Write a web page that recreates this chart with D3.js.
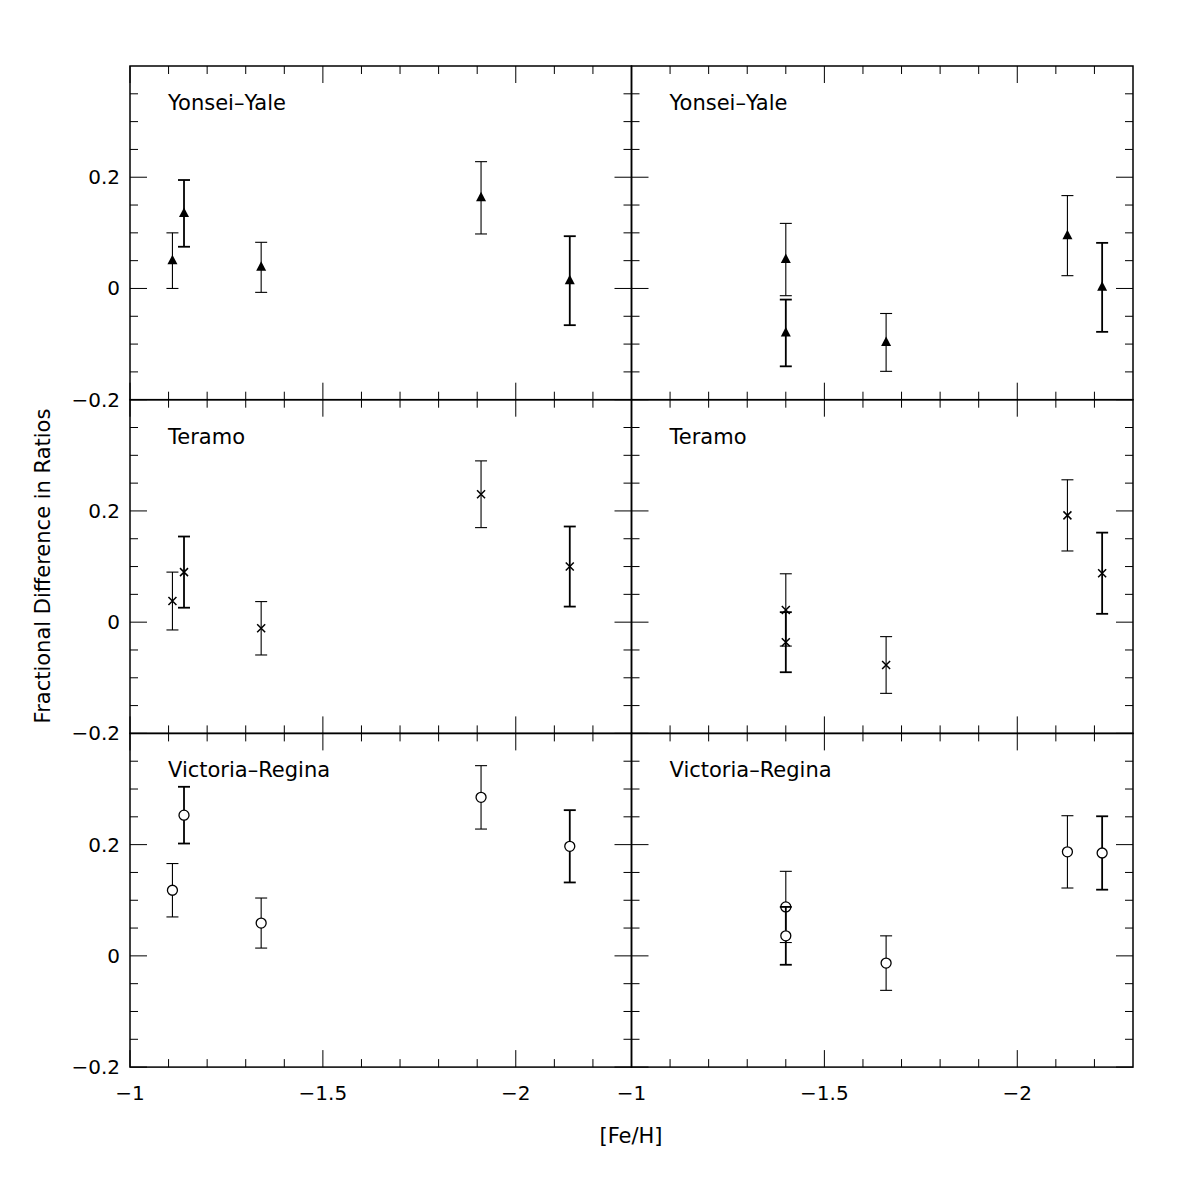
<!DOCTYPE html>
<html><head><meta charset="utf-8">
<script src="https://cdn.jsdelivr.net/npm/d3@7"></script>
<style>body{margin:0;background:#fff}</style>
</head><body>
<div class="graphic"></div>
<script>
const models = ["Yonsei\u2013Yale", "Teramo", "Victoria\u2013Regina"];
const symbols = ["triangle", "cross", "circle"];
const feLeft = [-1.11, -1.14, -1.34, -1.91, -2.14];
const feRight = [-1.40, -1.40, -1.66, -2.13, -2.22];
// values and errors per model, [left, right]
const valLeft = [
  [0.05, 0.135, 0.038, 0.163, 0.014],
  [0.038, 0.09, -0.011, 0.23, 0.10],
  [0.118, 0.253, 0.059, 0.285, 0.197]
];
const errLeft = [
  [0.05, 0.06, 0.045, 0.065, 0.08],
  [0.052, 0.064, 0.048, 0.06, 0.072],
  [0.048, 0.051, 0.045, 0.057, 0.065]
];
const valRight = [
  [0.052, -0.08, -0.097, 0.095, 0.002],
  [0.022, -0.036, -0.077, 0.192, 0.088],
  [0.088, 0.036, -0.013, 0.187, 0.185]
];
const errRight = [
  [0.065, 0.06, 0.052, 0.072, 0.08],
  [0.065, 0.054, 0.051, 0.064, 0.073],
  [0.064, 0.052, 0.049, 0.065, 0.066]
];
const yTicks = [-0.2, 0, 0.2];
const xTicks = [-1, -1.5, -2];

const left0 = 130, pw = 501.5, top0 = 66, ph = 333.7;
const font = "DejaVu Sans";

var svg = d3.select(".graphic").append("svg")
  .attr("width", 1196).attr("height", 1196)
  .style("font-family", font);

function fmt(v) {
  if (v === 0) return "0";
  return (v < 0 ? "\u2212" : "") + String(Math.abs(v)).replace(/^0/, "0");
}

function panel(row, col) {
  var x0 = left0 + col * pw, y0 = top0 + row * ph;
  var x = d3.scaleLinear().domain([-1, -2.3]).range([x0, x0 + pw]);
  var y = d3.scaleLinear().domain([-0.2, 0.4]).range([y0 + ph, y0]);
  var g = svg.append("g");
  g.append("rect").attr("x", x0).attr("y", y0).attr("width", pw).attr("height", ph)
    .attr("fill", "none").attr("stroke", "#000").attr("stroke-width", 1.5);

  // y ticks both sides
  d3.range(-4, 8).forEach(k => {
    var v = k * 0.05, major = k % 4 === 0, len = major ? 17 : 8, py = y(v);
    g.append("line").attr("x1", x0).attr("x2", x0 + len).attr("y1", py).attr("y2", py).attr("stroke", "#000");
    g.append("line").attr("x1", x0 + pw).attr("x2", x0 + pw - len).attr("y1", py).attr("y2", py).attr("stroke", "#000");
  });
  // x ticks top and bottom
  d3.range(10, 23).forEach(k => {
    var v = -k / 10, major = k % 5 === 0, len = major ? 17 : 8, px = x(v);
    g.append("line").attr("x1", px).attr("x2", px).attr("y1", y0 + ph).attr("y2", y0 + ph - len).attr("stroke", "#000");
    g.append("line").attr("x1", px).attr("x2", px).attr("y1", y0).attr("y2", y0 + len).attr("stroke", "#000");
  });

  if (col === 0) {
    yTicks.forEach(v => {
      g.append("text").attr("x", x0 - 10).attr("y", y(v) + 7).attr("text-anchor", "end")
        .attr("font-size", 20).text(fmt(v));
    });
  }
  if (row === 2) {
    xTicks.forEach(v => {
      g.append("text").attr("x", x(v)).attr("y", y0 + ph + 33).attr("text-anchor", "middle")
        .attr("font-size", 20).text(fmt(v));
    });
  }

  g.append("text").attr("x", x0 + 38).attr("y", y0 + 44).attr("font-size", 21).text(models[row]);

  var fe = col === 0 ? feLeft : feRight;
  var vals = (col === 0 ? valLeft : valRight)[row];
  var errs = (col === 0 ? errLeft : errRight)[row];
  fe.forEach((f, i) => {
    var px = x(f), py = y(vals[i]), lo = y(vals[i] - errs[i]), hi = y(vals[i] + errs[i]);
    var sw = (i === 1 || i === 4) ? 1.8 : 1.1;
    g.append("line").attr("x1", px).attr("x2", px).attr("y1", lo).attr("y2", hi).attr("stroke", "#000").attr("stroke-width", sw);
    [lo, hi].forEach(yy => g.append("line").attr("x1", px - 6).attr("x2", px + 6).attr("y1", yy).attr("y2", yy).attr("stroke", "#000").attr("stroke-width", sw));
    var s = symbols[row];
    if (s === "triangle") {
      g.append("path").attr("d", `M${px},${py - 6}L${px + 5},${py + 3.5}L${px - 5},${py + 3.5}Z`).attr("fill", "#000");
    } else if (s === "cross") {
      g.append("path").attr("d", `M${px - 4},${py - 4}L${px + 4},${py + 4}M${px - 4},${py + 4}L${px + 4},${py - 4}`)
        .attr("stroke", "#000").attr("stroke-width", 1.5);
    } else {
      g.append("circle").attr("cx", px).attr("cy", py).attr("r", 5).attr("fill", "#fff").attr("stroke", "#000").attr("stroke-width", 1.3);
    }
  });
}

for (var r = 0; r < 3; r++) for (var c = 0; c < 2; c++) panel(r, c);

svg.append("text").attr("x", 631).attr("y", 1143).attr("text-anchor", "middle").attr("font-size", 21).text("[Fe/H]");
svg.append("text").attr("transform", "translate(50,566) rotate(-90)").attr("text-anchor", "middle")
  .attr("font-size", 21).text("Fractional Difference in Ratios");
</script>
</body></html>
